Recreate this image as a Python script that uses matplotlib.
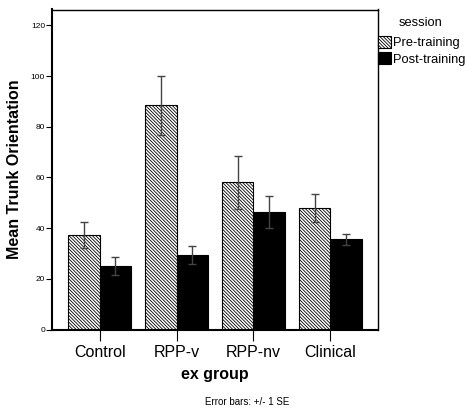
import matplotlib
matplotlib.use("Agg")
import matplotlib.pyplot as plt
import numpy as np

groups = ["Control", "RPP-v", "RPP-nv", "Clinical"]
sessions = ["Pre-training", "Post-training"]
pre_mean = [37.3, 88.5, 58.1, 47.8]
pre_se = [5.3, 11.7, 10.4, 5.5]
post_mean = [25.1, 29.4, 46.4, 35.6]
post_se = [3.5, 3.7, 6.4, 2.1]
yticks = [0, 20, 40, 60, 80, 100, 120]

plt.rcParams['font.family'] = ['Liberation Sans', 'DejaVu Sans']
plt.rcParams['hatch.linewidth'] = 0.6

W, H = 465, 409
fig = plt.figure(figsize=(W / 100, H / 100), dpi=100)
ax = fig.add_axes([52 / W, 1 - 329.5 / H, (378 - 52) / W, (329.5 - 9.5) / H])

x = np.arange(len(groups))
w = 0.41
b1 = ax.bar(x - w / 2, pre_mean, w, color='white', edgecolor='black', linewidth=0.8,
            hatch='\\' * 10, label=sessions[0])
b2 = ax.bar(x + w / 2, post_mean, w, color='black', edgecolor='black', linewidth=0.8,
            label=sessions[1])
ax.errorbar(x - w / 2, pre_mean, yerr=pre_se, fmt='none', ecolor='#444444',
            elinewidth=1.0, capsize=3, capthick=1.0)
ax.errorbar(x + w / 2, post_mean, yerr=post_se, fmt='none', ecolor='#444444',
            elinewidth=1.0, capsize=3, capthick=1.0)

ax.set_xlim(-0.62, 3.62)
ax.set_ylim(0, 126.3)
ax.set_yticks(yticks)
ax.set_yticklabels([str(t) for t in yticks], fontsize=6)
ax.set_xticks(x)
ax.set_xticklabels(groups, fontsize=11.5)
ax.tick_params(axis='y', length=4, width=0.8, pad=1)
ax.tick_params(axis='x', length=8, width=0.8, pad=3)
for s in ax.spines.values():
    s.set_linewidth(1.0)
ax.spines['left'].set_linewidth(1.5)
ax.spines['bottom'].set_linewidth(1.5)

ax.set_ylabel("Mean Trunk Orientation", fontsize=11.5, fontweight='bold', labelpad=6)
ax.set_xlabel("ex group", fontsize=11.5, fontweight='bold', labelpad=5)

fig.text(247.5 / W, 1 - 402 / H, "Error bars: +/- 1 SE", fontsize=7, ha='center', va='center')

fig.text(421 / W, 1 - 23 / H, "session", fontsize=9.3, ha='center', va='center')
leg = fig.legend(handles=[b1, b2], labels=sessions, loc='upper left',
                 bbox_to_anchor=(378 / W, 1 - 36 / H), frameon=False, fontsize=9.3,
                 handlelength=1.0, handleheight=1.0,
                 handletextpad=0.15, borderpad=0, borderaxespad=0, labelspacing=0.25)

fig.savefig("out.png", dpi=100)
